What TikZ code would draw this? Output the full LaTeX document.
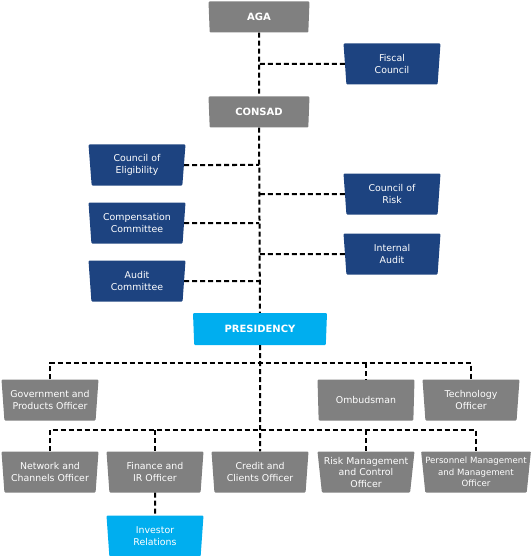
\documentclass[tikz,border=0pt]{standalone}
\usepackage{fontspec}
\setmainfont{DejaVu Sans}
\usepackage{xcolor}
\usetikzlibrary{shapes.geometric,backgrounds}

\definecolor{unitgray}{HTML}{808080}
\definecolor{boardnavy}{HTML}{1D4380}
\definecolor{chiefcyan}{HTML}{00AEEF}

\begin{document}
\begin{tikzpicture}[
  x=1pt, y=-1pt,
  font=\fontsize{9.4}{12.5}\selectfont,
  unit/.style={trapezium, shape border rotate=180, trapezium angle=82,
               trapezium stretches body=true, rounded corners=1pt,
               fill=unitgray, text=white, minimum width=97pt,
               minimum height=41pt, align=center, inner sep=0.5pt},
  board/.style={unit, fill=boardnavy},
  head/.style={unit, minimum width=101pt, minimum height=31pt,
               font=\fontsize{10}{11}\selectfont\bfseries},
  link/.style={line width=2pt, dash pattern=on 5pt off 3pt}
]
\useasboundingbox (0,0) rectangle (530,556);

% top: assembly and board
\node[head] (aga)    at (259,17)  {AGA};
\node[board] (fiscal) at (392,64) {Fiscal\\Council};
\node[head] (consad) at (259,112) {CONSAD};

% committees around the board
\node[board] (elig)     at (137,165) {Council of\\Eligibility};
\node[board] (comp)     at (137,223) {Compensation\\Committee};
\node[board] (audit)    at (137,281) {Audit\\Committee};
\node[board] (risk)     at (392,194) {Council of\\Risk};
\node[board] (internal) at (392,254) {Internal\\Audit};

\node[head, fill=chiefcyan, minimum width=134pt, minimum height=32pt]
  (pres) at (260,329) {PRESIDENCY};

% first row of officers
\node[unit] (gov)   at (50,400)  {Government and\\Products Officer};
\node[unit] (ombud) at (366,400) {Ombudsman};
\node[unit] (tech)  at (471,400) {Technology\\Officer};

% second row of officers
\node[unit] (network)   at (50,472)  {Network and\\Channels Officer};
\node[unit] (finance)   at (155,472) {Finance and\\IR Officer};
\node[unit] (credit)    at (260,472) {Credit and\\Clients Officer};
\node[unit, font=\fontsize{9.4}{11.5}\selectfont] (riskmgmt) at (366,472)
  {Risk Management\\and Control\\Officer};
\node[unit, minimum width=106pt, inner sep=0pt,
      font=\fontsize{8.6}{11.5}\selectfont]
  (personnel) at (476,472) {Personnel Management\\and Management\\Officer};

\node[unit, fill=chiefcyan] (investor) at (155,536) {Investor\\Relations};

\coordinate (bus1) at (260,363);
\coordinate (bus2) at (260,430);

% trunk
\draw[link] (aga) -- (consad);
\draw[link] (consad) -- (pres);
\draw[link] (pres) -- (credit);

% side branches
\foreach \n in {fiscal, risk, internal}
  \draw[link] (\n) -- (\n -| aga);
\foreach \n in {elig, comp, audit}
  \draw[link] (\n) -- (\n -| consad);

% officer buses
\draw[link] (gov) |- (bus1) -| (tech);
\draw[link] (bus1 -| ombud) -- (ombud);
\draw[link] (network) |- (bus2) -| (personnel);
\foreach \n in {finance, riskmgmt}
  \draw[link] (bus2 -| \n) -- (\n);

\draw[link] (finance) -- (investor);
\end{tikzpicture}
\end{document}
